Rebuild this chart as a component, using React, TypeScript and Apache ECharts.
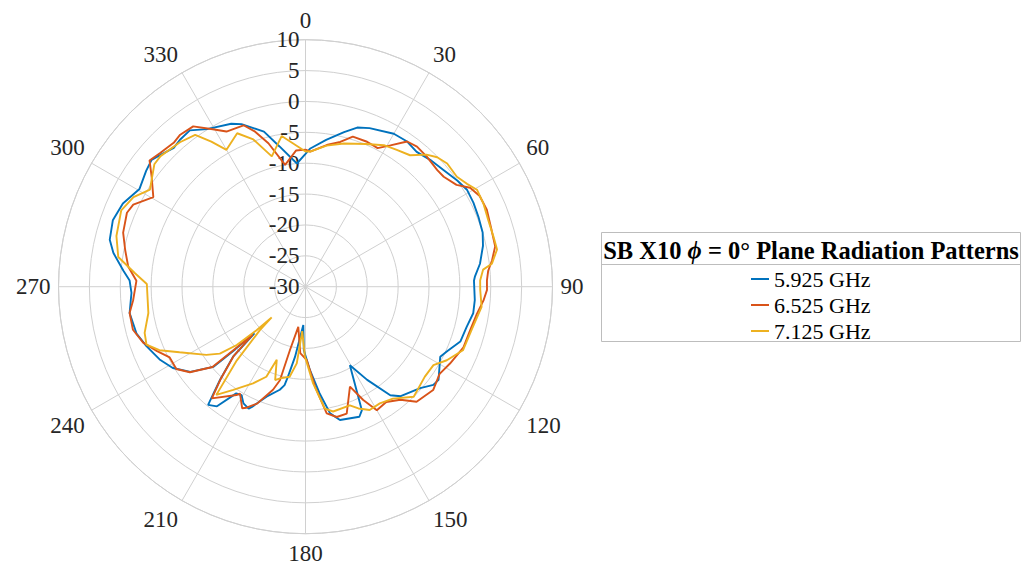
import React, { useEffect, useRef } from "react";
import * as echarts from "echarts";

const FONT = "'Liberation Serif', 'Times New Roman', serif";
const GRID = "#d0d0d0";
const TEXT = "#262626";

// Measured gain (dB) as [azimuth angle in degrees, gain] pairs, phi = 0° plane
const gain5925: [number, number][] = [
  [0, -8.5], [2, -7.6], [8, -6.0], [14, -4.2], [18, -2.9], [22, -2.3], [30, -1.4], [35, -1.3],
  [39.5, -1.7], [44.5, -1.2], [50, -0.7], [55, 0.0], [59, 0.5], [63.5, 0.4], [68, 0.2], [73, 0.0],
  [77, -0.5], [82.5, -1.5], [86.5, -2.5], [88, -2.7], [94.5, -2.5], [99, -2.5], [104, -3.1],
  [109.5, -3.4], [114.5, -4.8], [117.5, -5.4], [125, -3.7], [127.5, -3.9], [131.5, -5.2], [139, -6.5],
  [142, -7.7], [146.5, -11.9], [150.5, -15.4], [155.5, -8.0], [157.5, -7.2], [165.5, -7.7], [169, -9.1],
  [172.5, -12.6], [177, -16.5], [181.5, -19.7], [183.3, -23.8], [188.5, -18.5], [191, -15.2],
  [192, -13.7], [194, -12.8], [199.5, -11.1], [204, -8.7], [205, -8.2], [208, -8.6], [210.5, -9.6],
  [213, -9.4], [216.5, -5.9], [219.5, -5.2], [222.5, -9.5], [226, -13.7], [227.6, -18.8],
  [228.3, -14.8], [229, -10.2], [233.5, -6.8], [238.5, -4.8], [243.5, -3.6], [249.5, -2.5],
  [254.5, -1.6], [261.5, -1.2], [268, -1.8], [272, -1.5], [275, -0.4], [280, 1.6], [283.5, 2.6],
  [289, 3.0], [294.5, 2.5], [300.5, 1.2], [306, 1.9], [309.5, 2.3], [312, 1.8], [316.5, 1.0],
  [319.5, 1.3], [323.5, 1.5], [328, 0.1], [335.5, -1.0], [338.5, -1.7], [345, -4.0], [349.5, -6.9],
  [356, -10.0], [360, -8.5],
];

const gain6525: [number, number][] = [
  [0, -7.8], [2, -8.1], [8.5, -6.8], [13.5, -5.9], [17.5, -4.5], [23, -4.5], [27.5, -4.7], [31, -3.3],
  [35, -1.3], [38.5, -1.0], [43, -1.2], [48.5, -1.5], [51.5, -1.4], [56, -0.5], [59, 1.1], [62.5, 1.8],
  [67, 1.9], [73, 1.5], [78, 1.4], [82, 0.5], [85, -0.3], [88, -0.6], [91, -0.6], [94.5, -1.1],
  [99, -1.9], [104.5, -2.4], [111, -2.6], [118, -3.5], [123, -4.1], [129, -3.4], [136, -4.1],
  [140, -6.1], [145, -7.2], [150, -6.9], [153, -9.4], [156, -12.3], [162, -8.4], [166.5, -8.3],
  [170.5, -9.2], [174.5, -13.7], [179, -18.1], [184.5, -19.2], [190.2, -23.4], [193.8, -19.4],
  [195.3, -14.3], [197.5, -12.5], [202.5, -9.5], [206, -8.2], [207.5, -7.8], [211.5, -9.7],
  [212.5, -9.2], [220, -6.4], [222.5, -9.6], [226, -13.8], [227.9, -18.5], [228.5, -15.0],
  [229.2, -10.1], [233.5, -6.7], [237.5, -5.2], [242.5, -5.2], [246.5, -3.8], [251, -2.2],
  [256, -1.2], [261.5, -1.2], [265.5, -2.0], [272, -2.6], [276.5, -1.1], [281.5, -0.2], [286.5, 0.8],
  [292.5, 1.3], [295.5, 0.9], [300.5, -1.4], [305.5, 0.6], [309, 2.5], [312.5, 2.0], [317.5, 1.6],
  [320.5, 1.9], [325, 1.7], [329.5, -0.4], [333, -1.8], [339, -2.0], [342, -3.6], [345.5, -6.0],
  [350.5, -10.0], [356, -7.9], [360, -7.8],
];

const gain7125: [number, number][] = [
  [0, -8.1], [2, -8.1], [8.5, -6.9], [15, -6.0], [23, -4.9], [29, -3.8], [33.5, -3.4], [38.5, -2.8],
  [42.5, -1.0], [45.5, -0.1], [49, 0.4], [54, 0.3], [57.5, 1.0], [60.5, 1.9], [65, 1.8], [70, 1.5],
  [75, 1.5], [79, 1.6], [83, 0.4], [84.5, -1.1], [88, -1.7], [91, -1.7], [96.5, -1.3], [104.5, -2.2],
  [112, -2.5], [117.5, -4.2], [121.5, -5.7], [127, -5.8], [135.5, -5.0], [142, -7.0], [147.5, -7.6],
  [152.5, -7.5], [156.5, -8.5], [159.5, -9.5], [167.5, -9.3], [171, -10.0], [175.5, -14.3],
  [180.5, -18.7], [184.2, -22.8], [186.5, -17.5], [190, -15.2], [195.5, -14.6], [198, -14.1],
  [201.5, -17.3], [203.5, -14.1], [208.5, -12.2], [215, -9.6], [219.5, -7.3], [223, -13.7],
  [226.4, -19.8], [227.8, -22.6], [228.4, -19.4], [229.7, -15.4], [232, -12.4], [235.5, -10.5],
  [242.5, -7.0], [246.5, -4.2], [250, -2.6], [254, -2.9], [260.5, -4.2], [271, -4.3], [274.5, -2.3],
  [279, 0.7], [285, 1.7], [292.5, 2.3], [297.5, 1.4], [302, -0.3], [309, 1.5], [312, 1.6], [319, 1.0],
  [324, 0.4], [327, -2.0], [330, -4.4], [336, -2.8], [340.5, -4.7], [345.5, -8.2], [351, -5.3],
  [357, -7.3], [360, -8.1],
];

const seriesNames = ["5.925 GHz", "6.525 GHz", "7.125 GHz"];
const seriesData = [gain5925, gain6525, gain7125];
const seriesColors = ["#0072BD", "#D95319", "#EDB120"];

const radialMin = -30;
const radialMax = 10;
const radialStep = 5;
const angleStep = 30;

export default function App() {
  const ref = useRef<HTMLDivElement>(null);

  useEffect(() => {
    if (!ref.current) return;
    const chart = echarts.init(ref.current, undefined, { renderer: "svg" });

    const option = {
      animation: false,
      backgroundColor: "#ffffff",
      polar: { center: [305.5, 286.7], radius: 247 },
      angleAxis: {
        type: "value",
        min: 0,
        max: 360,
        interval: angleStep,
        startAngle: 90,
        clockwise: true,
        axisLine: { show: true, lineStyle: { color: GRID, width: 1 } },
        axisTick: { show: false },
        splitLine: { show: true, lineStyle: { color: GRID, width: 1 } },
        axisLabel: {
          margin: 8,
          fontFamily: FONT,
          fontSize: 23,
          color: TEXT,
          formatter: (v: number) => (v >= 360 ? "" : String(v)),
        },
      },
      radiusAxis: {
        type: "value",
        min: radialMin,
        max: radialMax,
        interval: radialStep,
        axisLine: { show: false },
        axisTick: { show: false },
        splitLine: { show: true, lineStyle: { color: GRID, width: 1 } },
        axisLabel: { margin: 6, fontFamily: FONT, fontSize: 23, color: TEXT },
      },
      legend: {
        orient: "vertical",
        left: 751,
        top: 268,
        itemGap: 4,
        itemWidth: 18,
        itemHeight: 2,
        icon: "rect",
        selectedMode: false,
        padding: 0,
        textStyle: { fontFamily: FONT, fontSize: 22, color: "#000", lineHeight: 22 },
        data: seriesNames,
      },
      graphic: [
        {
          type: "rect",
          shape: { x: 601.5, y: 232.5, width: 419, height: 109 },
          style: { fill: "rgba(0,0,0,0)", stroke: "#bdbdbd", lineWidth: 1 },
        },
        {
          type: "line",
          shape: { x1: 601.5, y1: 264.5, x2: 1020.5, y2: 264.5 },
          style: { stroke: "#bdbdbd", lineWidth: 1 },
        },
        {
          type: "text",
          x: 811,
          y: 250,
          style: {
            text: "{b|SB X10 }{i|ϕ}{b| = 0° Plane Radiation Patterns}",
            align: "center",
            verticalAlign: "middle",
            rich: {
              b: { fontFamily: FONT, fontSize: 24.5, fontWeight: "bold", fill: "#000" },
              i: { fontFamily: FONT, fontSize: 24.5, fontWeight: "bold", fontStyle: "italic", fill: "#000" },
            },
          },
        },
      ],
      series: seriesData.map((d, i) => ({
        name: seriesNames[i],
        type: "line",
        coordinateSystem: "polar",
        data: d.map(([angle, gain]) => [gain, angle]),
        showSymbol: false,
        symbol: "none",
        smooth: false,
        z: 3 + i,
        lineStyle: { color: seriesColors[i], width: 1.9 },
        itemStyle: { color: seriesColors[i] },
      })),
    };

    chart.setOption(option as any);
    return () => chart.dispose();
  }, []);

  return (
    <div
      ref={ref}
      style={{ position: "fixed", left: 0, top: 0, width: 1024, height: 571, background: "#fff" }}
    />
  );
}
